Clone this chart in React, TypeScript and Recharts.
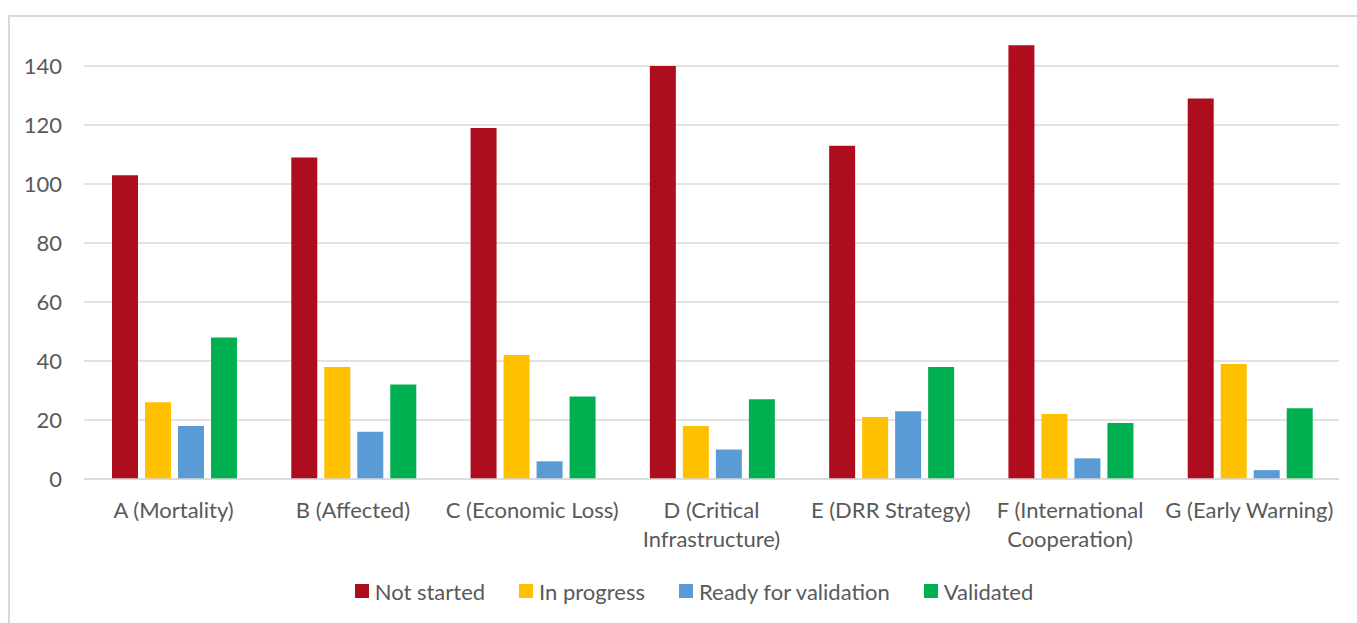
import { BarChart, Bar, XAxis, YAxis, CartesianGrid, Legend } from 'recharts'

const categories = [
  'A (Mortality)',
  'B (Affected)',
  'C (Economic Loss)',
  'D (Critical\nInfrastructure)',
  'E (DRR Strategy)',
  'F (International\nCooperation)',
  'G (Early Warning)',
]
const notStarted = [103, 109, 119, 140, 113, 147, 129]
const inProgress = [26, 38, 42, 18, 21, 22, 39]
const readyForValidation = [18, 16, 6, 10, 23, 7, 3]
const validated = [48, 32, 28, 27, 38, 19, 24]
const yTicks = [0, 20, 40, 60, 80, 100, 120, 140]

const series = [
  { key: 'notStarted', name: 'Not started', color: '#AE0D1E' },
  { key: 'inProgress', name: 'In progress', color: '#FFC000' },
  { key: 'ready', name: 'Ready for validation', color: '#5B9BD5' },
  { key: 'validated', name: 'Validated', color: '#00B050' },
]

const data = categories.map((cat, i) => ({
  cat,
  notStarted: notStarted[i],
  inProgress: inProgress[i],
  ready: readyForValidation[i],
  validated: validated[i],
}))

const FONT = 'Lato, Carlito, Calibri, sans-serif'
const TEXT = '#595959'
const GRID = '#D9D9D9'

function CategoryTick({ x, y, payload }: any) {
  const lines = String(payload.value).split('\n')
  return (
    <text x={x} y={y + 37} textAnchor="middle" fill={TEXT} fontSize={22} fontFamily={FONT}>
      {lines.map((l, i) => (
        <tspan key={i} x={x} dy={i === 0 ? 0 : 29}>
          {l}
        </tspan>
      ))}
    </text>
  )
}

function LegendContent() {
  return (
    <div
      style={{
        display: 'flex',
        justifyContent: 'center',
        alignItems: 'center',
        height: 44,
        fontFamily: FONT,
        fontSize: 22,
        color: TEXT,
      }}
    >
      {series.map((s) => (
        <div key={s.key} style={{ display: 'flex', alignItems: 'center', margin: '0 17px' }}>
          <span style={{ width: 14, height: 14, background: s.color, marginRight: 6 }} />
          <span>{s.name}</span>
        </div>
      ))}
    </div>
  )
}

export default function App() {
  return (
    <div style={{ position: 'absolute', left: 0, top: 0, width: 1357, height: 623, background: '#fff' }}>
      <div
        style={{
          position: 'absolute',
          left: 8,
          top: 15,
          width: 1400,
          height: 700,
          borderLeft: `2px solid ${GRID}`,
          borderTop: `2px solid ${GRID}`,
        }}
      />
      <div style={{ position: 'absolute', left: 0, top: 0 }}>
        <BarChart
          width={1357}
          height={623}
          data={data}
          margin={{ top: 7, right: 18, bottom: 10, left: 0 }}
          barCategoryGap={28}
          barGap={7}
        >
          <CartesianGrid vertical={false} stroke={GRID} strokeWidth={1.3} syncWithTicks />
          <XAxis
            dataKey="cat"
            height={90}
            interval={0}
            tickLine={false}
            axisLine={{ stroke: GRID, strokeWidth: 1.3 }}
            tickSize={0}
            tick={<CategoryTick />}
          />
          <YAxis
            width={84}
            domain={[0, 160]}
            ticks={yTicks}
            axisLine={false}
            tickLine={false}
            tickSize={0}
            tickMargin={22}
            tick={{ fill: TEXT, fontSize: 22, fontFamily: FONT }}
          />
          <Legend
            verticalAlign="bottom"
            height={44}
            wrapperStyle={{ left: 0, width: 1388 }}
            content={<LegendContent />}
          />
          {series.map((s) => (
            <Bar key={s.key} dataKey={s.key} name={s.name} fill={s.color} isAnimationActive={false} />
          ))}
        </BarChart>
      </div>
    </div>
  )
}
